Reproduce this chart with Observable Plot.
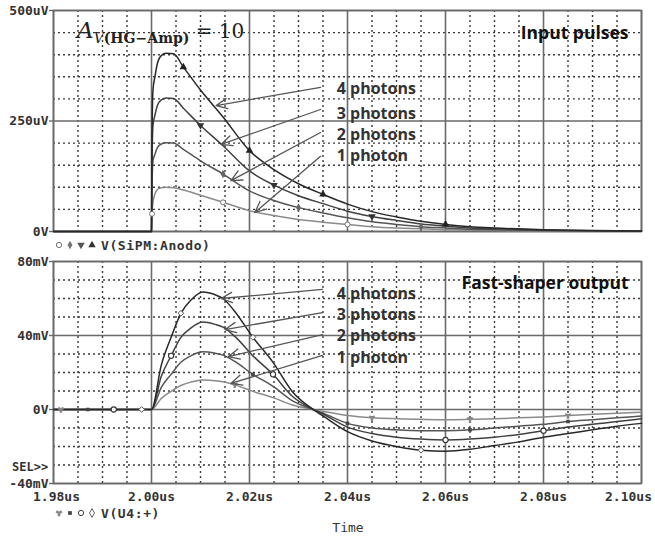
<!DOCTYPE html>
<html>
<head>
<meta charset="utf-8">
<script src="https://cdn.jsdelivr.net/npm/d3@7"></script>
<script src="https://cdn.jsdelivr.net/npm/@observablehq/plot@0.6"></script>
<style>
html,body{margin:0;padding:0;background:#fff;}
#wrap{position:relative;width:655px;height:539px;overflow:hidden;background:#fff;}
.panel{position:absolute;left:0;}
.panel svg{display:block;}
</style>
</head>
<body>
<div id="wrap"><div class="panel" id="top" style="top:0"></div><div class="panel" id="bot" style="top:252px"></div></div>
<script>
// ---------- data ----------
const photonSeries = ["1 photon", "2 photons", "3 photons", "4 photons"];
const photonLabels = ["4 photons", "3 photons", "2 photons", "1 photon"];

// axis ticks
const xTicks = [1.98, 2.00, 2.02, 2.04, 2.06, 2.08, 2.10];
const xTickLabels = ["1.98us", "2.00us", "2.02us", "2.04us", "2.06us", "2.08us", "2.10us"];
const xMinor = [1.985, 1.99, 1.995, 2.005, 2.01, 2.015, 2.025, 2.03, 2.035, 2.045, 2.05, 2.055, 2.065, 2.07, 2.075, 2.085, 2.09, 2.095];
const inYTicks = [0, 250, 500];
const inYTickLabels = ["0V", "250uV", "500uV"];
const inYMinor = [50, 100, 150, 200, 300, 350, 400, 450];
const outYTicks = [-40, 0, 40, 80];
const outYTickLabels = ["-40mV", "0V", "40mV", "80mV"];
const outYMinor = [-30, -20, -10, 10, 20, 30, 50, 60, 70];

// Input pulses V(SiPM:Anodo), time in us, values in uV
const inTime = [1.98, 2.0, 2.0001, 2.0003, 2.0007, 2.0012, 2.002, 2.003, 2.0045, 2.0065, 2.010, 2.0146, 2.020, 2.025, 2.030, 2.035, 2.040, 2.045, 2.050, 2.055, 2.060, 2.065, 2.070, 2.080, 2.090, 2.100];
const in1 = [0, 0, 40, 65, 85, 95, 99, 100, 99, 94, 82, 66, 47, 36, 27, 21, 16, 11, 8, 6, 4, 3, 2, 1, 0.5, 0.3];
const in2 = [0, 0, 100, 160, 175, 190, 198, 201, 200, 186, 160, 130, 92, 70, 54, 42, 31, 22, 16, 11, 8, 5, 4, 2, 1, 0.5];
const in3 = [0, 0, 150, 240, 263, 285, 298, 302, 301, 279, 240, 194, 137, 105, 81, 63, 46, 34, 25, 17, 12, 8, 6, 3, 1.5, 0.8];
const in4 = [0, 0, 200, 320, 350, 380, 398, 403, 402, 372, 320, 259, 183, 140, 108, 84, 62, 45, 33, 23, 16, 11, 8, 4, 2, 1];

// Fast-shaper output V(U4:+), time in us, values in mV
const outTime = [1.98, 1.9815, 1.987, 1.9923, 1.998, 2.000, 2.002, 2.004, 2.006, 2.008, 2.0105, 2.013, 2.0146, 2.017, 2.0207, 2.0248, 2.0288, 2.033, 2.035, 2.040, 2.045, 2.050, 2.055, 2.060, 2.065, 2.070, 2.075, 2.080, 2.085, 2.090, 2.095, 2.100];
const out1 = [0, 0, 0, 0, 0, 0, 6, 9.8, 13, 14.8, 16, 15.6, 15, 13.3, 9.8, 6.4, 2.4, 0, -1, -3.3, -4.5, -5, -5.3, -5.5, -5.3, -5, -4.5, -4, -3.3, -2.6, -2, -1.5];
const out2 = [0, 0, 0, 0, 0, 0, 12, 19, 25.5, 29, 31.2, 30.4, 29.4, 26, 19, 12.5, 4.7, 0, -2, -7.5, -10, -11, -11.5, -11.5, -11, -10, -9, -8, -6.5, -5.5, -4.5, -3.5];
const out3 = [0, 0, 0, 0, 0, 0, 18, 29, 39, 44, 47.3, 46, 44.5, 39.5, 29, 19, 7, 0, -2.5, -9.5, -13, -15, -16, -16.5, -16, -15, -13.5, -11.5, -9.5, -8, -6.5, -5];
const out4 = [0, 0, 0, 0, 0, 0, 24, 39, 52, 59, 63.5, 62, 60, 53, 39, 25.5, 9.5, 0, -3.5, -12, -17, -20, -22, -22.5, -21.5, -19.5, -17.5, -15, -13, -11, -9, -7.5];

// marker times (PSpice trace symbols)
const inMark1 = [2.0001, 2.0146, 2.040];
const inMark2 = [2.0146, 2.030, 2.055];
const inMark3 = [2.010, 2.025, 2.045];
const inMark4 = [2.0065, 2.020, 2.035, 2.060];
const outMark1 = [1.9815, 2.017, 2.045, 2.065, 2.085];
const outMark2 = [1.987, 2.0207, 2.040, 2.065, 2.085];
const outMark3 = [1.9923, 2.004, 2.0248, 2.060, 2.080];
const outMark4 = [1.998, 2.006, 2.0207, 2.055];

// ---------- helpers ----------
const seriesColors = ["#8a8a8a", "#555555", "#404040", "#282828"];
const MONO = "'DejaVu Sans Mono', monospace";
const SANS = "'Open Sans', 'Liberation Sans', sans-serif";

function toRows(time, arrays) {
  return arrays.flatMap((vals, i) => vals.map((v, j) => ({t: time[j], v, s: photonSeries[i]})));
}
const inRows = toRows(inTime, [in1, in2, in3, in4]);
const outRows = toRows(outTime, [out1, out2, out3, out4]);

function pick(rows, series, times) {
  return rows.filter(d => d.s === series && times.includes(d.t));
}

function gridMarks(yMinor, yMajor) {
  return [
    Plot.ruleX(xMinor, {stroke: "#3a3a3a", strokeWidth: 1.4, strokeDasharray: "2,3"}),
    Plot.ruleY(yMinor, {stroke: "#3a3a3a", strokeWidth: 1.4, strokeDasharray: "2,3"}),
    Plot.ruleX(xTicks, {stroke: "#6a6a6a", strokeWidth: 1.6}),
    Plot.ruleY(yMajor, {stroke: "#6a6a6a", strokeWidth: 1.6}),
    Plot.frame({stroke: "#6a6a6a", strokeWidth: 1.6})
  ];
}
function yLabelMarks(ticks, labels) {
  return [
    Plot.axisY(ticks, {tickSize: 4, tickFormat: () => "", stroke: "#6a6a6a", strokeWidth: 1.4}),
    Plot.text(ticks, {y: d => d, text: (d, i) => labels[i], frameAnchor: "left", textAnchor: "end", dx: -5,
      fontFamily: MONO, fontSize: 13, fontWeight: "bold", fill: "#333"})
  ];
}
function lineMark(rows) {
  return Plot.line(rows, {x: "t", y: "v", z: "s", stroke: "s", strokeWidth: 1.5, curve: "monotone-x"});
}

// ---------- top panel: input pulses ----------
const inArrows = [
  {x1: 2.0345, y1: 326, x2: 2.0132, y2: 285},
  {x1: 2.0345, y1: 276, x2: 2.0142, y2: 197},
  {x1: 2.0345, y1: 224, x2: 2.0162, y2: 115},
  {x1: 2.0345, y1: 170, x2: 2.0211, y2: 43}
];
const inLabelY = [323, 267, 219, 170];

const topSvg = Plot.plot({
  width: 655, height: 252, marginTop: 10, marginRight: 14, marginBottom: 21, marginLeft: 53,
  x: {domain: [1.98, 2.10], axis: null},
  y: {domain: [0, 500], axis: null},
  color: {domain: photonSeries, range: seriesColors},
  style: {background: "#fff", overflow: "visible"},
  marks: [
    ...gridMarks(inYMinor, inYTicks),
    lineMark(inRows),
    Plot.dot(pick(inRows, "1 photon", inMark1), {x: "t", y: "v", r: 2.5, stroke: "#777", fill: "#fff", strokeWidth: 1}),
    Plot.dot(pick(inRows, "2 photons", inMark2), {x: "t", y: "v", symbol: "diamond", r: 2.6, fill: "#666"}),
    Plot.dot(pick(inRows, "3 photons", inMark3), {x: "t", y: "v", symbol: "triangle", rotate: 180, r: 2.8, fill: "#333"}),
    Plot.dot(pick(inRows, "4 photons", inMark4), {x: "t", y: "v", symbol: "triangle", r: 2.8, fill: "#222"}),
    Plot.arrow(inArrows, {x1: "x1", y1: "y1", x2: "x2", y2: "y2", stroke: "#555", strokeWidth: 1.3, headLength: 14, headAngle: 50}),
    Plot.text(photonLabels, {x: () => 2.0378, y: (d, i) => inLabelY[i], text: d => d, textAnchor: "start",
      fontFamily: SANS, fontSize: 16, fontWeight: "bold", fill: "#333"}),
    Plot.text(["Input pulses"], {frameAnchor: "top-right", textAnchor: "end", lineAnchor: "middle", dx: -13, dy: 23,
      fontFamily: SANS, fontSize: 17.5, fontWeight: "bold", fill: "#111"}),
    ...yLabelMarks(inYTicks, inYTickLabels)
  ]
});
document.getElementById("top").appendChild(topSvg);

// ---------- bottom panel: fast-shaper output ----------
const outArrows = [
  {x1: 2.0349, y1: 64.9, x2: 2.0142, y2: 60},
  {x1: 2.0349, y1: 52.4, x2: 2.0150, y2: 43.2},
  {x1: 2.0349, y1: 40.5, x2: 2.0157, y2: 28.6},
  {x1: 2.0349, y1: 29.2, x2: 2.0162, y2: 14.1}
];
const outLabelY = [62.7, 51.3, 40, 28.1];
const tickText = {frameAnchor: "bottom", lineAnchor: "middle", dy: 13, fontFamily: MONO, fontSize: 13, fontWeight: "bold", fill: "#333"};

const botSvg = Plot.plot({
  width: 655, height: 287, marginTop: 9, marginRight: 14, marginBottom: 56, marginLeft: 53,
  x: {domain: [1.98, 2.10], axis: null},
  y: {domain: [-40, 80], axis: null},
  color: {domain: photonSeries, range: seriesColors},
  style: {background: "#fff", overflow: "visible"},
  marks: [
    ...gridMarks(outYMinor, outYTicks),
    lineMark(outRows),
    Plot.dot(pick(outRows, "1 photon", outMark1), {x: "t", y: "v", symbol: "wye", r: 2.6, fill: "#888"}),
    Plot.dot(pick(outRows, "2 photons", outMark2), {x: "t", y: "v", symbol: "square", r: 2, fill: "#444"}),
    Plot.dot(pick(outRows, "3 photons", outMark3), {x: "t", y: "v", r: 2.6, stroke: "#333", fill: "#fff", strokeWidth: 1.1}),
    Plot.dot(pick(outRows, "4 photons", outMark4), {x: "t", y: "v", symbol: "diamond2", r: 2.6, stroke: "#555", fill: "#fff", strokeWidth: 1}),
    Plot.arrow(outArrows, {x1: "x1", y1: "y1", x2: "x2", y2: "y2", stroke: "#555", strokeWidth: 1.3, headLength: 14, headAngle: 50}),
    Plot.text(photonLabels, {x: () => 2.0378, y: (d, i) => outLabelY[i], text: d => d, textAnchor: "start",
      fontFamily: SANS, fontSize: 16, fontWeight: "bold", fill: "#333"}),
    Plot.text(["Fast-shaper output"], {frameAnchor: "top-right", textAnchor: "end", lineAnchor: "middle", dx: -13, dy: 22,
      fontFamily: SANS, fontSize: 17.5, fontWeight: "bold", fill: "#111"}),
    ...yLabelMarks(outYTicks, outYTickLabels),
    Plot.text(xTicks.slice(0, 1), {x: d => d, text: () => xTickLabels[0], dx: 3, ...tickText}),
    Plot.text(xTicks.slice(1, -1), {x: d => d, text: (d, i) => xTickLabels[i + 1], ...tickText}),
    Plot.text(xTicks.slice(-1), {x: d => d, text: () => xTickLabels[xTickLabels.length - 1], dx: -13, ...tickText})
  ]
});
document.getElementById("bot").appendChild(botSvg);

// ---------- extra PSpice-style texts ----------
function legend(svg, y, symbols, label) {
  const g = d3.select(svg).append("g").attr("text-anchor", "start");
  const xs = [59, 70, 81, 92];
  symbols.forEach((s, i) => {
    g.append("path")
      .attr("d", d3.symbol(s.type, s.size)())
      .attr("transform", `translate(${xs[i]},${y}) rotate(${s.rot || 0})`)
      .attr("fill", s.fill).attr("stroke", s.stroke || "none").attr("stroke-width", 1);
  });
  g.append("text").attr("x", 101).attr("y", y).attr("dy", "0.35em").attr("text-anchor", "start")
    .attr("font-family", MONO).attr("font-size", 13).attr("font-weight", "bold")
    .attr("letter-spacing", "0.6px").attr("fill", "#333").text(label);
}
legend(topSvg, 245, [
  {type: d3.symbolCircle, size: 22, fill: "#fff", stroke: "#777"},
  {type: d3.symbolDiamond, size: 22, fill: "#777"},
  {type: d3.symbolTriangle, size: 24, fill: "#555", rot: 180},
  {type: d3.symbolTriangle, size: 24, fill: "#333"}
], "V(SiPM:Anodo)");
legend(botSvg, 261, [
  {type: d3.symbolWye, size: 22, fill: "#888"},
  {type: d3.symbolSquare, size: 14, fill: "#444"},
  {type: d3.symbolCircle, size: 22, fill: "#fff", stroke: "#444"},
  {type: d3.symbolDiamond, size: 22, fill: "#fff", stroke: "#666"}
], "V(U4:+)");

d3.select(botSvg).append("text").attr("x", 12).attr("y", 215).attr("dy", "0.35em").attr("text-anchor", "start")
  .attr("font-family", MONO).attr("font-size", 12).attr("font-weight", "bold").attr("fill", "#333").text("SEL>>");
d3.select(botSvg).append("text").attr("x", 348).attr("y", 275).attr("dy", "0.35em").attr("text-anchor", "middle")
  .attr("font-family", MONO).attr("font-size", 13).attr("fill", "#333").text("Time");

// formula A_V(HG-Amp) = 10
const f = d3.select(topSvg).append("text").attr("x", 77).attr("y", 38).attr("text-anchor", "start")
  .attr("font-family", "'DejaVu Serif', serif").attr("fill", "#222");
f.append("tspan").attr("font-style", "italic").attr("font-size", 23).text("A");
f.append("tspan").attr("font-style", "italic").attr("font-size", 14).attr("dy", 5).text("V");
f.append("tspan").attr("font-size", 14).attr("font-weight", "bold").text("(HG\u2212Amp)");
f.append("tspan").attr("font-size", 20).attr("dy", -5).text(" = 10");
</script>
</body>
</html>
